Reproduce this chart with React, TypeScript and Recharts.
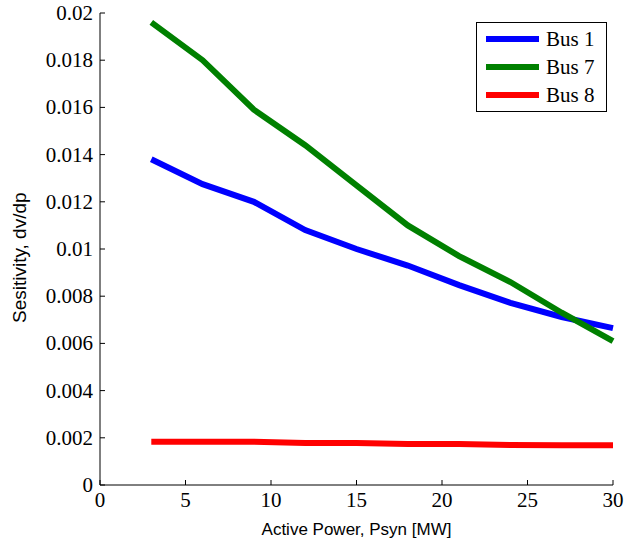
import { LineChart, Line, XAxis, YAxis, Legend } from 'recharts'

// active power Psyn [MW]
const power = [3, 6, 9, 12, 15, 18, 21, 24, 27, 30]
const bus1 = [0.0138, 0.01275, 0.0120, 0.0108, 0.0100, 0.0093, 0.00847, 0.00772, 0.00712, 0.00665]
const bus7 = [0.0196, 0.0180, 0.0159, 0.0144, 0.0127, 0.0110, 0.0097, 0.0086, 0.0073, 0.0061]
const bus8 = [0.00183, 0.00183, 0.00183, 0.00178, 0.00178, 0.00174, 0.00174, 0.00169, 0.00168, 0.00168]

const xTicks = [0, 5, 10, 15, 20, 25, 30]
const yTicks = [0, 0.002, 0.004, 0.006, 0.008, 0.01, 0.012, 0.014, 0.016, 0.018, 0.02]

const data = power.map((p, i) => ({ p, bus1: bus1[i], bus7: bus7[i], bus8: bus8[i] }))

const serif = 'Liberation Serif, DejaVu Serif, Times New Roman, Times, serif'
const sans = 'Liberation Sans, Arial, Helvetica, sans-serif'

const fmtY = (v: number) => String(Number(v.toFixed(3)))

const BottomTick = (props: any) => {
    const { x, y, payload } = props
    return (
        <g>
            <line x1={x} x2={x} y1={y} y2={y - 5} stroke="#000" />
            <text x={x} y={y + 22} textAnchor="middle" style={{ fontFamily: serif, fontSize: 21 }} fill="#000">
                {payload.value}
            </text>
        </g>
    )
}

const LeftTick = (props: any) => {
    const { x, y, payload } = props
    return (
        <g>
            <line x1={x} x2={x + 5} y1={y} y2={y} stroke="#000" />
            <text x={x - 7} y={y + 7} textAnchor="end" style={{ fontFamily: serif, fontSize: 21 }} fill="#000">
                {fmtY(payload.value)}
            </text>
        </g>
    )
}

const TopTick = (props: any) => {
    const { x, y } = props
    return <line x1={x} x2={x} y1={y} y2={y + 5} stroke="#000" />
}

const RightTick = (props: any) => {
    const { x, y } = props
    return <line x1={x} x2={x - 5} y1={y} y2={y} stroke="#000" />
}

const LegendBox = (props: any) => {
    const { payload } = props
    return (
        <div style={{ border: '1.5px solid #000', background: '#fff', padding: '2px 0 2px 9px' }}>
            {payload.map((entry: any) => (
                <div key={entry.value} style={{ display: 'flex', alignItems: 'center', height: 28 }}>
                    <svg width={53} height={8} style={{ marginRight: 7 }}>
                        <line x1={0} x2={53} y1={4} y2={4} stroke={entry.color} strokeWidth={6} />
                    </svg>
                    <span style={{ fontFamily: serif, fontSize: 21, color: '#000', lineHeight: '28px' }}>{entry.value}</span>
                </div>
            ))}
        </div>
    )
}

export default function App() {
    return (
        <div style={{ position: 'absolute', left: 0, top: 0, width: 632, height: 538, background: '#fff' }}>
            <LineChart width={632} height={538} data={data} margin={{ top: 13, right: 19, bottom: 0, left: 0 }}>
                <XAxis
                    dataKey="p"
                    type="number"
                    domain={[0, 30]}
                    ticks={xTicks}
                    height={53}
                    tickSize={0}
                    tickMargin={0}
                    tickLine={false}
                    tick={<BottomTick />}
                    stroke="#000"
                    label={{ value: 'Active Power, Psyn [MW]', position: 'insideBottom', offset: 3, style: { fontFamily: sans, fontSize: 17 }, fill: '#000' }}
                />
                <XAxis
                    xAxisId="top"
                    orientation="top"
                    dataKey="p"
                    type="number"
                    domain={[0, 30]}
                    ticks={xTicks}
                    height={0}
                    tickSize={0}
                    tickMargin={0}
                    tickLine={false}
                    tick={<TopTick />}
                    stroke="#000"
                />
                <YAxis
                    type="number"
                    domain={[0, 0.02]}
                    ticks={yTicks}
                    width={100}
                    tickSize={0}
                    tickMargin={0}
                    tickLine={false}
                    tick={<LeftTick />}
                    stroke="#000"
                    label={{ value: 'Sesitivity, dv/dp', angle: -90, position: 'insideLeft', offset: 19, dy: 74, style: { fontFamily: sans, fontSize: 19 }, fill: '#000' }}
                />
                <YAxis
                    yAxisId="right"
                    orientation="right"
                    type="number"
                    domain={[0, 0.02]}
                    ticks={yTicks}
                    width={0}
                    tickSize={0}
                    tickMargin={0}
                    tickLine={false}
                    tick={<RightTick />}
                    stroke="#000"
                />
                <Legend
                    layout="vertical"
                    align="center"
                    verticalAlign="middle"
                    content={<LegendBox />}
                    wrapperStyle={{ top: 22, left: 476, width: 131 }}
                />
                <Line name="Bus 1" dataKey="bus1" stroke="#0000ff" strokeWidth={6} dot={false} isAnimationActive={false} />
                <Line name="Bus 7" dataKey="bus7" stroke="#008000" strokeWidth={6} dot={false} isAnimationActive={false} />
                <Line name="Bus 8" dataKey="bus8" stroke="#ff0000" strokeWidth={6} dot={false} isAnimationActive={false} />
            </LineChart>
        </div>
    )
}
